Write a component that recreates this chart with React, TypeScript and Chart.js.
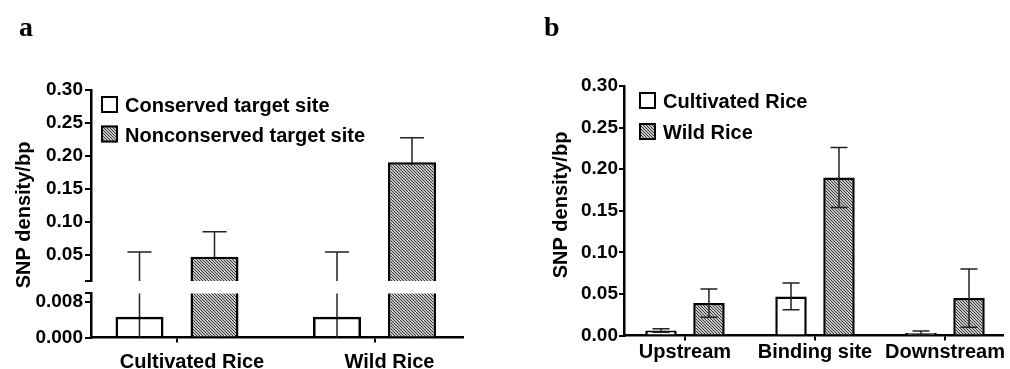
import React, { useEffect, useRef } from 'react';
import { Chart, registerables } from 'chart.js';

Chart.register(...registerables);

// ---------- Panel a data ----------
const categoriesA = ['Cultivated Rice', 'Wild Rice'];
const conservedA = [0.0047, 0.0047];
const conservedErrA = [0.0493, 0.0493];
const nonconservedA = [0.0469, 0.1902];
const nonconservedErrA = [0.0379, 0.0374];
const yTicksAUpper = [0.01, 0.05, 0.1, 0.15, 0.2, 0.25, 0.3];
const yLabelsAUpper = ['', '0.05', '0.10', '0.15', '0.20', '0.25', '0.30'];
const yTicksALower = [0, 0.008, 0.01];
const yLabelsALower = ['0.000', '0.008', ''];

// ---------- Panel b data ----------
const categoriesB = ['Upstream', 'Binding site', 'Downstream'];
const cultivatedB = [0.006, 0.047, 0.003];
const cultivatedErrB = [0.002, 0.016, 0.0025];
const wildB = [0.039, 0.19, 0.045];
const wildErrB = [0.017, 0.036, 0.035];
const yTicksB = [0, 0.05, 0.1, 0.15, 0.2, 0.25, 0.3];
const yLabelsB = ['0.00', '0.05', '0.10', '0.15', '0.20', '0.25', '0.30'];

const FONT = "'Liberation Sans', Arial, Helvetica, sans-serif";
const SERIF = "'Liberation Serif', 'Times New Roman', serif";

function makeHatch(): any {
  const c = document.createElement('canvas');
  c.width = 3;
  c.height = 3;
  const g = c.getContext('2d');
  if (!g) return '#999';
  g.fillStyle = '#c6c6c6';
  g.fillRect(0, 0, 3, 3);
  g.fillStyle = '#383838';
  for (let i = 0; i < 3; i++) g.fillRect(i, i, 1, 1);
  return g.createPattern(c, 'repeat') || '#999';
}

function errorBarPlugin(onTop: boolean, capRatio: number) {
  const draw = (chart: any) => {
    const { ctx, chartArea } = chart;
    ctx.save();
    ctx.beginPath();
    ctx.rect(chartArea.left, chartArea.top, chartArea.right - chartArea.left, chartArea.bottom - chartArea.top);
    ctx.clip();
    ctx.strokeStyle = '#222';
    ctx.lineWidth = 1.5;
    chart.data.datasets.forEach((ds: any, di: number) => {
      const errs = ds.errors;
      if (!errs) return;
      const meta = chart.getDatasetMeta(di);
      const yScale = chart.scales[meta.yAxisID];
      meta.data.forEach((el: any, i: number) => {
        const v = ds.data[i];
        const e = errs[i];
        const x = el.x;
        const half = el.width * capRatio;
        const yTop = yScale.getPixelForValue(v + e);
        const yBot = yScale.getPixelForValue(v - e);
        ctx.beginPath();
        ctx.moveTo(x, yTop);
        ctx.lineTo(x, yBot);
        ctx.moveTo(x - half, yTop);
        ctx.lineTo(x + half, yTop);
        ctx.moveTo(x - half, yBot);
        ctx.lineTo(x + half, yBot);
        ctx.stroke();
      });
    });
    ctx.restore();
  };
  return onTop ? { id: 'errbars', afterDatasetsDraw: draw } : { id: 'errbars', beforeDatasetsDraw: draw };
}

function legendPlugin(x: number, y: number, gap: number, size: number) {
  return {
    id: 'boxlegend',
    afterDraw(chart: any) {
      const ctx = chart.ctx;
      chart.data.datasets.forEach((ds: any, i: number) => {
        const top = y + i * gap;
        ctx.save();
        ctx.fillStyle = '#fff';
        ctx.fillRect(x, top, size, size);
        ctx.fillStyle = ds.backgroundColor;
        ctx.fillRect(x, top, size, size);
        ctx.lineWidth = 2;
        ctx.strokeStyle = '#000';
        ctx.strokeRect(x + 1, top + 1, size - 2, size - 2);
        ctx.font = `bold 20px ${FONT}`;
        ctx.fillStyle = '#000';
        ctx.textAlign = 'left';
        ctx.textBaseline = 'alphabetic';
        ctx.fillText(ds.label, x + size + 7, top + 16);
        ctx.restore();
      });
    },
  };
}

function textPlugin(items: any[]) {
  return {
    id: 'extratext',
    afterDraw(chart: any) {
      const ctx = chart.ctx;
      items.forEach((it) => {
        ctx.save();
        ctx.font = it.font;
        ctx.fillStyle = '#000';
        ctx.textAlign = it.align || 'left';
        ctx.textBaseline = it.baseline || 'alphabetic';
        ctx.translate(it.x, it.y);
        if (it.rotate) ctx.rotate(it.rotate);
        ctx.fillText(it.text, 0, 0);
        ctx.restore();
      });
    },
  };
}

const tickFont = { family: FONT, size: 19, weight: 'bold' as const };
const labelFont = { family: FONT, size: 20, weight: 'bold' as const };

function yAxis(min: number, max: number, ticks: number[], labels: string[], width: number, tl: number, pad: number) {
  return {
    type: 'linear',
    min,
    max,
    afterBuildTicks: (s: any) => {
      s.ticks = ticks.map((v) => ({ value: v }));
    },
    afterFit: (s: any) => {
      s.width = width;
    },
    ticks: {
      callback: (_v: any, i: number) => labels[i],
      font: tickFont,
      color: '#000',
      padding: pad,
      autoSkip: false,
    },
    grid: { display: true, drawOnChartArea: false, drawTicks: true, tickLength: tl, color: '#000', lineWidth: 2, offset: false },
    border: { display: true, color: '#000', width: 2.5 },
  };
}

function xAxis(min: number, max: number, cats: string[], display: boolean, height: number, pad: number, labelOffset: number) {
  const idx = cats.map((_c, i) => i);
  return {
    type: 'linear',
    display,
    min,
    max,
    offset: false,
    afterBuildTicks: (s: any) => {
      s.ticks = idx.map((v) => ({ value: v }));
    },
    afterFit: (s: any) => {
      s.height = height;
    },
    ticks: {
      callback: (_v: any, i: number) => cats[i],
      font: labelFont,
      color: '#000',
      padding: pad,
      labelOffset,
      maxRotation: 0,
      autoSkip: false,
    },
    grid: { display: true, drawOnChartArea: false, drawTicks: true, tickLength: 5, color: '#000', lineWidth: 2, offset: false },
    border: { display: true, color: '#000', width: 2.5 },
  };
}

export default function App() {
  const aTop = useRef<HTMLCanvasElement>(null);
  const aBot = useRef<HTMLCanvasElement>(null);
  const bRef = useRef<HTMLCanvasElement>(null);

  useEffect(() => {
    const hatch = makeHatch();
    const charts: any[] = [];
    const idxA = categoriesA.map((_c, i) => i);
    const idxB = categoriesB.map((_c, i) => i);

    const datasetsA = () => [
      {
        label: 'Conserved target site',
        data: conservedA,
        errors: conservedErrA,
        backgroundColor: 'rgba(255,255,255,0)',
        borderColor: '#000',
        borderWidth: 2.5,
        categoryPercentage: 0.7595,
        barPercentage: 0.64,
        clip: 0,
      },
      {
        label: 'Nonconserved target site',
        data: nonconservedA,
        errors: nonconservedErrA,
        backgroundColor: hatch,
        borderColor: '#000',
        borderWidth: 2.5,
        categoryPercentage: 0.7595,
        barPercentage: 0.64,
        clip: 0,
      },
    ];

    const common = {
      responsive: false,
      animation: false,
      events: [],
      plugins: { legend: { display: false }, tooltip: { enabled: false }, title: { display: false } },
    };

    const xMinA = -0.4354;
    const xMaxA = 1.448;

    if (aTop.current) {
      charts.push(
        new Chart(aTop.current, {
          type: 'bar',
          data: { labels: idxA, datasets: datasetsA() as any },
          options: {
            ...common,
            layout: { padding: { top: 90, bottom: 19, left: 0, right: 7 } },
            scales: {
              x: xAxis(xMinA, xMaxA, categoriesA, false, 0, 0, 0) as any,
              y: yAxis(0.01, 0.3, yTicksAUpper, yLabelsAUpper, 91, 6, 2) as any,
            },
          } as any,
          plugins: [
            errorBarPlugin(false, 0.25),
            legendPlugin(101, 96, 29.5, 17),
            textPlugin([
              { text: 'a', x: 19, y: 36, font: `bold 28px ${SERIF}` },
              { text: 'SNP density/bp', x: 24, y: 215, font: `bold 20px ${FONT}`, align: 'center', baseline: 'middle', rotate: -Math.PI / 2 },
            ]),
          ] as any,
        })
      );
    }

    if (aBot.current) {
      charts.push(
        new Chart(aBot.current, {
          type: 'bar',
          data: { labels: idxA, datasets: datasetsA() as any },
          options: {
            ...common,
            layout: { padding: { top: 10, bottom: 0, left: 0, right: 7 } },
            scales: {
              x: xAxis(xMinA, xMaxA, categoriesA, true, 31.5, 7.5, 15) as any,
              y: yAxis(0, 0.01, yTicksALower, yLabelsALower, 91, 6, 2) as any,
            },
          } as any,
          plugins: [errorBarPlugin(false, 0.25)] as any,
        })
      );
    }

    if (bRef.current) {
      charts.push(
        new Chart(bRef.current, {
          type: 'bar',
          data: {
            labels: idxB,
            datasets: [
              {
                label: 'Cultivated Rice',
                data: cultivatedB,
                errors: cultivatedErrB,
                backgroundColor: '#ffffff',
                borderColor: '#000',
                borderWidth: 2.5,
                categoryPercentage: 0.738,
                barPercentage: 0.656,
                clip: 0,
              },
              {
                label: 'Wild Rice',
                data: wildB,
                errors: wildErrB,
                backgroundColor: hatch,
                borderColor: '#000',
                borderWidth: 2.5,
                categoryPercentage: 0.738,
                barPercentage: 0.656,
                clip: 0,
              },
            ] as any,
          },
          options: {
            ...common,
            layout: { padding: { top: 86, bottom: 0, left: 0, right: 7 } },
            scales: {
              x: xAxis(-0.469, 2.446, categoriesB, true, 33.5, -0.5, 0) as any,
              y: yAxis(0, 0.3, yTicksB, yLabelsB, 154, 5, 1) as any,
            },
          } as any,
          plugins: [
            errorBarPlugin(true, 0.27),
            legendPlugin(169, 92, 31, 17),
            textPlugin([
              { text: 'b', x: 74, y: 36, font: `bold 28px ${SERIF}` },
              { text: 'SNP density/bp', x: 91, y: 205, font: `bold 20px ${FONT}`, align: 'center', baseline: 'middle', rotate: -Math.PI / 2 },
            ]),
          ] as any,
        })
      );
    }

    return () => {
      charts.forEach((c) => c.destroy());
    };
  }, []);

  return (
    <div style={{ position: 'fixed', left: 0, top: 0, width: 1010, height: 369, background: '#fff', overflow: 'hidden' }}>
      <canvas ref={aTop} width={470} height={300} style={{ position: 'absolute', left: 0, top: 0, width: 470, height: 300 }} />
      <canvas ref={aBot} width={470} height={89} style={{ position: 'absolute', left: 0, top: 280, width: 470, height: 89 }} />
      <canvas ref={bRef} width={540} height={369} style={{ position: 'absolute', left: 470, top: 0, width: 540, height: 369 }} />
    </div>
  );
}
